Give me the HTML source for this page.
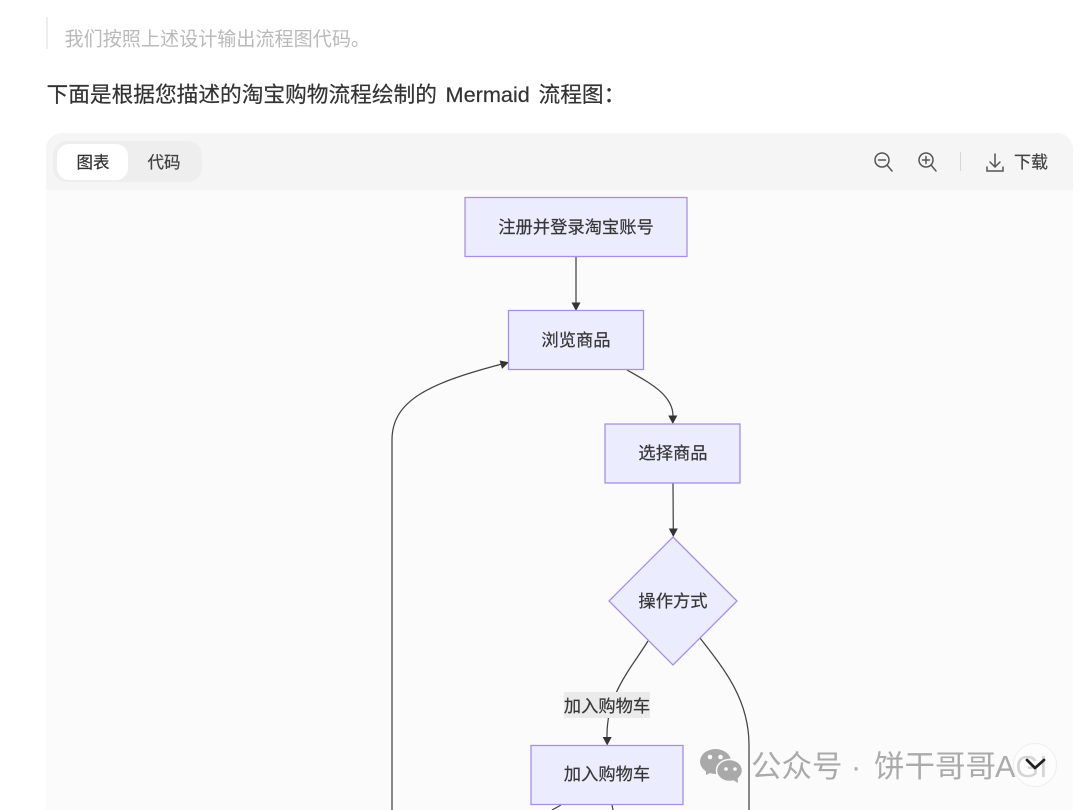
<!DOCTYPE html>
<html lang="zh">
<head>
<meta charset="utf-8">
<title>Mermaid 流程图</title>
<style>
html,body{margin:0;padding:0;width:1080px;height:810px;overflow:hidden;background:#fff}
svg{display:block}
text{font-family:"Liberation Sans","Noto Sans CJK SC",sans-serif}
.n{font-size:17.3px;fill:#363636;stroke:#363636;stroke-width:.2;text-anchor:middle}
.h{font-size:21.7px;fill:#333;stroke:#333;stroke-width:.2}
.w{font-size:30.5px;fill:#aaaaaa}
.t{stroke:#333;stroke-width:.2}
.b{fill:#ececff;stroke:#a98ee6;stroke-width:1.3}
.e{fill:none;stroke:#444;stroke-width:1.25}
.a{fill:#333}
</style>
</head>
<body>
<svg width="1080" height="810" viewBox="0 0 1080 810" xmlns="http://www.w3.org/2000/svg">
<rect x="46" y="17" width="2" height="32" fill="#eeeeee"/>
<text x="64.500" y="45.500" font-size="19.1" fill="#b9b9b9">我们按照上述设计输出流程图代码。</text>
<text class="h" x="46.500" y="102">下面是根据您描述的淘宝购物流程绘制的</text>
<text class="h" x="445.500" y="102">Mermaid</text>
<text class="h" x="538.500" y="102">流程图：</text>

<path d="M46 810V149a16 16 0 0 1 16-16H1057a16 16 0 0 1 16 16V810Z" fill="#fbfbfb"/>
<path d="M46 190V149a16 16 0 0 1 16-16H1057a16 16 0 0 1 16 16V190Z" fill="#f5f5f5"/>
<rect x="53" y="141" width="149" height="41" rx="14" fill="#eeeeee"/>
<rect x="57" y="144" width="71" height="36" rx="12" fill="#fff"/>
<text class="t" x="93" y="168" font-size="16.500" fill="#333" text-anchor="middle">图表</text>
<text class="t" x="164" y="168" font-size="16.500" fill="#444" text-anchor="middle">代码</text>

<g fill="none" stroke="#555" stroke-width="1.500" stroke-linecap="round">
<circle cx="882" cy="160" r="7"/><path d="M878.500 160h7M887 165l5 6"/>
<circle cx="926" cy="160" r="7"/><path d="M922.500 160h7M926 156.500v7M931 165l5 6"/>
<path d="M995 154v13M990 162l5 5 5-5M987 167v4h16v-4"/>
</g>
<rect x="960" y="152" width="1" height="19" fill="#d6d6d6"/>
<text class="t" x="1014" y="168" font-size="17" fill="#444">下载</text>

<path class="e" d="M576 257V304"/>
<path class="a" d="M571.500 302.500h9l-4.500 8.500z"/>
<path class="e" d="M627 370C650 383 673 395 673 416"/>
<path class="a" d="M668.300 415.500h9l-4.500 8.500z"/>
<path class="e" d="M673 483L673.300 530"/>
<path class="a" d="M668.800 528.500h9l-4.500 8.500z"/>
<path class="e" d="M392 810V440C392 400 430 383 502 364"/>
<path class="a" d="M509 362.300L499.600 360.500L502 368.900z"/>
<path class="e" d="M648 641C630 670 606 695 607 738"/>
<path class="a" d="M602.700 737h9l-4.500 8.500z"/>
<path class="e" d="M700 638C725 670 749 700 749 745V810"/>
<path class="e" d="M561 805L552 810M612 805L613 810"/>

<rect class="b" x="465" y="197.500" width="222" height="59"/>
<text class="n" x="576" y="233">注册并登录淘宝账号</text>
<rect class="b" x="508.500" y="310.500" width="135" height="59"/>
<text class="n" x="576" y="346">浏览商品</text>
<rect class="b" x="605" y="424" width="135" height="59"/>
<text class="n" x="673" y="459">选择商品</text>
<path class="b" d="M673 537L737 601L673 665L609 601Z"/>
<text class="n" x="673" y="607">操作方式</text>
<rect x="564" y="692" width="86" height="26" fill="#ebebeb"/>
<text class="n" x="607" y="712">加入购物车</text>
<rect class="b" x="531" y="745.500" width="152" height="59"/>
<text class="n" x="607" y="780">加入购物车</text>

<g fill="#a9a9a9">
<ellipse cx="715.500" cy="761.500" rx="15.500" ry="12.500"/>
<path d="M706 769l0 6 8-4z"/>
<ellipse cx="729.500" cy="770.500" rx="13" ry="11" stroke="#fbfbfb" stroke-width="1.500"/>
<path d="M733 780l5 3-.5-6z"/>
</g>
<g fill="#fbfbfb">
<circle cx="710" cy="757" r="2.300"/><circle cx="720.500" cy="757" r="2.300"/>
<circle cx="726" cy="769" r="1.800"/><circle cx="735" cy="769" r="1.800"/>
</g>
<text class="w" x="751" y="777">公众号</text>
<text class="w" x="851" y="777">·</text>
<text class="w" x="874" y="777">饼干哥哥</text>
<text class="w" x="995" y="777" font-size="28">AGI</text>
<circle cx="1035" cy="765" r="21.500" fill="#fff" fill-opacity=".5" stroke="#eeeeee"/>
<path d="M1027 760l8 8 9-8" fill="none" stroke="#222" stroke-width="2.800" stroke-linecap="round" stroke-linejoin="round"/>
</svg>
</body>
</html>
